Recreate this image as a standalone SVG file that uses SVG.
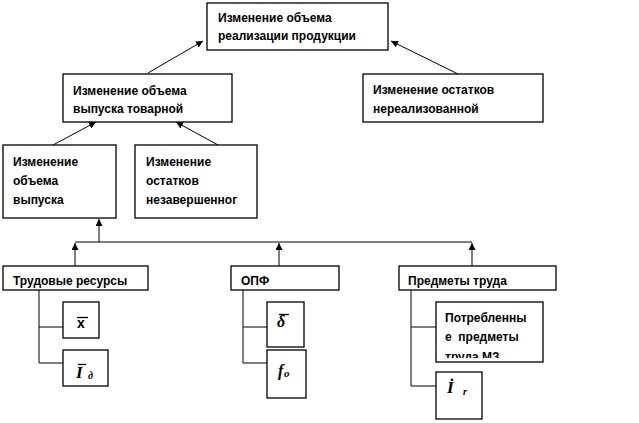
<svg xmlns="http://www.w3.org/2000/svg" width="639" height="423" viewBox="0 0 639 423">
<style>
.box{fill:#fff;stroke:#000;stroke-width:1.3}
.t{font-family:"Liberation Sans",Arial,sans-serif;font-weight:bold;font-size:12px;fill:#000}
.m{font-family:"Liberation Serif","Times New Roman",serif;font-weight:bold;font-style:italic;fill:#000}
.c{fill:none;stroke:#000;stroke-width:1}
.bar{stroke:#000;stroke-width:1.3}
</style>
<defs>
<marker id="ah" viewBox="0 0 8 8" refX="8" refY="4" markerWidth="7" markerHeight="7" markerUnits="userSpaceOnUse" orient="auto">
<path d="M0,0 L8,4 L0,8 z" fill="#000"/>
</marker>
<clipPath id="clipP"><rect x="437" y="303" width="105" height="55"/></clipPath>
</defs>
<rect width="639" height="423" fill="#fff"/>
<g id="connectors">
<line class="c" x1="148" y1="73" x2="203" y2="41" marker-end="url(#ah)"/>
<line class="c" x1="458" y1="74" x2="391" y2="41" marker-end="url(#ah)"/>
<line class="c" x1="53" y1="145" x2="96" y2="122" marker-end="url(#ah)"/>
<line class="c" x1="218" y1="145" x2="176" y2="122" marker-end="url(#ah)"/>
<line class="c" x1="99" y1="242" x2="99" y2="219" marker-end="url(#ah)"/>
<line class="c" x1="75" y1="242" x2="472" y2="242"/>
<line class="c" x1="75" y1="266" x2="75" y2="243" marker-end="url(#ah)"/>
<line class="c" x1="279" y1="266" x2="279" y2="243" marker-end="url(#ah)"/>
<line class="c" x1="472" y1="266" x2="472" y2="243" marker-end="url(#ah)"/>
<path class="c" d="M39,290 V363 H63 M39,327 H63"/>
<path class="c" d="M243,290 V363 H267 M243,327 H267"/>
<path class="c" d="M411,290 V386 H436 M411,327 H436"/>
</g>
<g id="n_top">
<rect class="box" x="207" y="3" width="181" height="47"/>
<text class="t" x="218" y="22">Изменение объема</text>
<text class="t" x="218" y="40">реализации продукции</text>
</g>
<g id="n_vypusk_tovar">
<rect class="box" x="63" y="74" width="169" height="48"/>
<text class="t" x="73" y="95">Изменение объема</text>
<text class="t" x="73" y="113">выпуска товарной</text>
</g>
<g id="n_ostatki_nereal">
<rect class="box" x="363" y="74" width="180" height="48"/>
<text class="t" x="373" y="94">Изменение остатков</text>
<text class="t" x="373" y="113">нереализованной</text>
</g>
<g id="n_vypusk">
<rect class="box" x="3" y="145" width="113" height="73"/>
<text class="t" x="13" y="166">Изменение</text>
<text class="t" x="13" y="185">объема</text>
<text class="t" x="13" y="204">выпуска</text>
</g>
<g id="n_nezaversh">
<rect class="box" x="135" y="145" width="122" height="73"/>
<text class="t" x="146" y="166">Изменение</text>
<text class="t" x="146" y="185">остатков</text>
<text class="t" x="146" y="204">незавершенног</text>
</g>
<g id="n_trud">
<rect class="box" x="3" y="266" width="145" height="24"/>
<text class="t" x="13" y="285">Трудовые ресурсы</text>
</g>
<g id="n_opf">
<rect class="box" x="231" y="266" width="108" height="24"/>
<text class="t" x="241" y="285">ОПФ</text>
</g>
<g id="n_predmety">
<rect class="box" x="399" y="266" width="157" height="24"/>
<text class="t" x="408" y="285">Предметы труда</text>
</g>
<g id="n_xbar">
<rect class="box" x="63" y="302" width="36" height="36"/>
<line class="bar" x1="77" y1="317.5" x2="88" y2="317.5"/>
<text x="77" y="328" font-family="Liberation Sans,Arial,sans-serif" font-weight="bold" font-size="14">x</text>
</g>
<g id="n_Ibar">
<rect class="box" x="63" y="350" width="45" height="36"/>
<line class="bar" x1="78" y1="364.5" x2="86" y2="364.5"/>
<text class="m" x="76" y="378" font-size="17">I</text>
<text class="m" x="88" y="379" font-size="10">д</text>
</g>
<g id="n_delta">
<rect class="box" x="267" y="302" width="37" height="45"/>
<line class="bar" x1="279" y1="314.5" x2="289" y2="314.5"/>
<text class="m" x="277" y="327" font-size="16">δ</text>
</g>
<g id="n_fo">
<rect class="box" x="267" y="350" width="39" height="48"/>
<text class="m" x="278" y="376" font-size="16">f</text>
<text class="m" x="284" y="377" font-size="11">о</text>
</g>
<g id="n_potreb">
<rect class="box" x="436" y="302" width="107" height="60"/>
<text class="t" x="445" y="322">Потребленны</text>
<text class="t" x="445" y="341" xml:space="preserve" style="white-space:pre">е  предметы</text>
<text class="t" x="445" y="361" clip-path="url(#clipP)">труда МЗ</text>
</g>
<g id="n_It">
<rect class="box" x="436" y="372" width="46" height="47"/>
<text class="m" x="447" y="393" font-size="17">İ</text>
<text class="m" x="463" y="395" font-size="10">r</text>
</g>
</svg>
